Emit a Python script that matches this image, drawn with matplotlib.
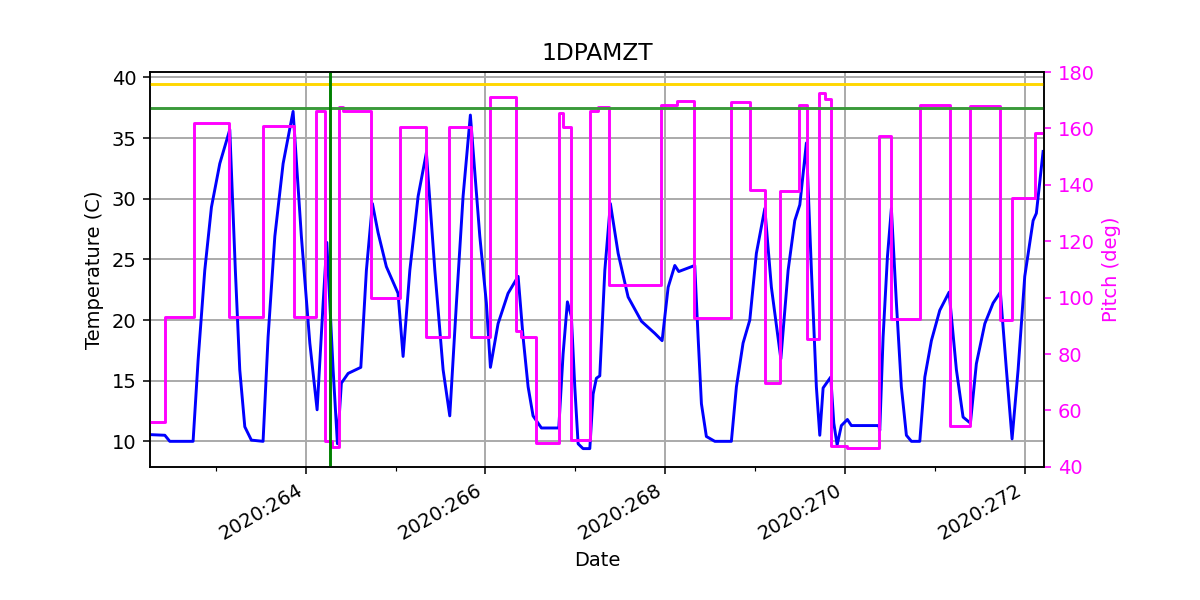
import numpy as np
import matplotlib
matplotlib.use("Agg")
import matplotlib.pyplot as plt
import matplotlib.dates as mdates
from matplotlib.transforms import blended_transform_factory

# 1DPAMZT temperature vs pitch, days of year 2020

temp_doy = [
    262.279, 262.435, 262.490, 262.749, 262.805, 262.879, 262.953, 263.046,
    263.157, 263.219, 263.268, 263.324, 263.397, 263.527, 263.583, 263.658,
    263.750, 263.861, 263.953, 264.047, 264.128, 264.195, 264.236, 264.306,
    264.354, 264.398, 264.473, 264.614, 264.676, 264.743, 264.806, 264.898,
    265.028, 265.084, 265.159, 265.251, 265.343, 265.437, 265.529, 265.603,
    265.677, 265.751, 265.832, 265.937, 266.010, 266.055, 266.140, 266.251,
    266.363, 266.418, 266.474, 266.529, 266.622, 266.815, 266.863, 266.911,
    266.955, 266.993, 267.030, 267.085, 267.160, 267.197, 267.233, 267.271,
    267.327, 267.389, 267.475, 267.586, 267.734, 267.883, 267.964, 268.031,
    268.105, 268.149, 268.327, 268.364, 268.401, 268.456, 268.550, 268.734,
    268.790, 268.864, 268.939, 269.012, 269.106, 269.179, 269.284, 269.365,
    269.439, 269.495, 269.568, 269.624, 269.679, 269.717, 269.754, 269.839,
    269.873, 269.910, 269.957, 270.024, 270.068, 270.373, 270.384, 270.421,
    270.469, 270.513, 270.569, 270.624, 270.680, 270.736, 270.829, 270.885,
    270.958, 271.051, 271.155, 271.236, 271.310, 271.392, 271.458, 271.552,
    271.644, 271.725, 271.792, 271.855, 271.922, 271.996, 272.089, 272.125,
    272.200]
temp_val = [
    10.55, 10.5, 10.0, 10.0, 16.7, 24.1, 29.3, 32.9,
    35.7, 24.1, 15.9, 11.2, 10.1, 10.0, 18.6, 26.9,
    32.9, 37.2, 26.9, 18.1, 12.6, 21.4, 26.4, 15.9,
    9.8, 14.8, 15.6, 16.1, 24.1, 29.6, 27.2, 24.4,
    22.2, 17.0, 24.1, 30.2, 33.8, 24.1, 15.9, 12.1,
    21.4, 30.2, 36.9, 26.9, 21.4, 16.1, 19.7, 22.2,
    23.6, 18.6, 14.5, 12.1, 11.1, 11.1, 17.2, 21.5,
    20.3, 14.5, 9.8, 9.4, 9.4, 13.9, 15.2, 15.4,
    24.1, 29.6, 25.5, 21.9, 19.9, 18.9, 18.3, 22.7,
    24.5, 24.0, 24.5, 18.6, 13.1, 10.4, 10.0, 10.0,
    14.5, 18.1, 20.0, 25.5, 29.2, 22.7, 16.8, 24.1,
    28.2, 29.5, 34.6, 24.1, 14.5, 10.5, 14.4, 15.3,
    11.5, 9.7, 11.3, 11.8, 11.3, 11.3, 10.9, 18.6,
    25.2, 29.2, 21.4, 14.5, 10.5, 10.0, 10.0, 15.3,
    18.3, 20.8, 22.3, 15.9, 12.0, 11.5, 16.4, 19.7,
    21.4, 22.3, 15.9, 10.2, 15.9, 23.6, 28.2, 28.8,
    33.9]

pitch_doy = [
    262.27, 262.441, 262.760, 263.149, 263.527, 263.869, 264.113, 264.213,
    264.291, 264.369, 264.417, 264.725, 265.047, 265.336, 265.592, 265.837,
    266.055, 266.344, 266.393, 266.566, 266.815, 266.863, 266.955, 267.160,
    267.252, 267.371, 267.956, 268.134, 268.320, 268.734, 268.939, 269.106,
    269.272, 269.484, 269.579, 269.706, 269.773, 269.839, 270.024, 270.373,
    270.513, 270.829, 271.163, 271.392, 271.719, 271.859, 272.108, 272.21]
pitch_val = [
    56, 93, 162, 93, 161, 93, 166, 49,
    47, 167.5, 166, 100, 160.4, 86, 160.4, 86,
    171, 88, 86, 48.6, 165.4, 160.6, 49.6, 166.3,
    167.7, 104.5, 168.3, 169.8, 92.7, 169.5, 138.2, 69.7,
    137.9, 168.3, 85.3, 172.4, 170.3, 47.4, 46.6, 157.4,
    92.5, 168.3, 54.3, 167.9, 92.1, 135.4, 158.5, 158.5]

planning_limit = 37.5
yellow_limit = 39.5
event_doy = 264.272

major_doy = [264, 266, 268, 270, 272]
minor_doy = [263, 265, 267, 269, 271]


def doy_to_date(doy):
    doy = np.asarray(doy, dtype=np.float64)
    secs = np.round(doy * 86400.0).astype("int64")
    return np.datetime64("2019-12-31T00:00:00") + secs.astype("timedelta64[s]")


DPI = 140
fig, ax1 = plt.subplots(figsize=(1200 / DPI, 600 / DPI), dpi=DPI)
fig.subplots_adjust(left=0.125, right=0.87, bottom=0.222, top=0.88)

ax1.plot(doy_to_date(temp_doy), temp_val, color="blue", lw=1.5)
ax1.set_ylim(7.9, 40.45)
ax1.set_yticks([10, 15, 20, 25, 30, 35, 40])
ax1.set_ylabel("Temperature (C)")
ax1.set_xlabel("Date")
ax1.set_title("1DPAMZT")
ax1.grid(True, color="#aaaaaa", lw=1.0)

ax2 = ax1.twinx()
ax2.plot(doy_to_date(pitch_doy), pitch_val, color="magenta", lw=1.5,
         drawstyle="steps-post")
ax2.set_ylim(40, 180)
ax2.set_yticks(np.arange(40, 181, 20))
ax2.set_ylabel("Pitch (deg)", color="magenta")
ax2.tick_params(axis="y", colors="magenta")

# limit lines on top of the pitch trace, y in temperature units
trans = blended_transform_factory(ax2.transAxes, ax1.transData)
ax2.plot([0, 1], [yellow_limit, yellow_limit], transform=trans,
         color="gold", lw=1.5)
ax2.plot([0, 1], [planning_limit, planning_limit], transform=trans,
         color="#3a9a3a", lw=1.5)
ax2.axvline(doy_to_date([event_doy])[0], color="green", lw=1.5)

ax1.set_xlim(doy_to_date([262.27])[0], doy_to_date([272.21])[0])
ax1.xaxis.set_major_locator(
    matplotlib.ticker.FixedLocator(mdates.date2num(doy_to_date(major_doy))))
ax1.xaxis.set_minor_locator(
    matplotlib.ticker.FixedLocator(mdates.date2num(doy_to_date(minor_doy))))
ax1.xaxis.set_major_formatter(mdates.DateFormatter("%Y:%j"))
for lab in ax1.get_xticklabels():
    lab.set_rotation(30)
    lab.set_ha("right")

fig.savefig("out.png", dpi=DPI)
